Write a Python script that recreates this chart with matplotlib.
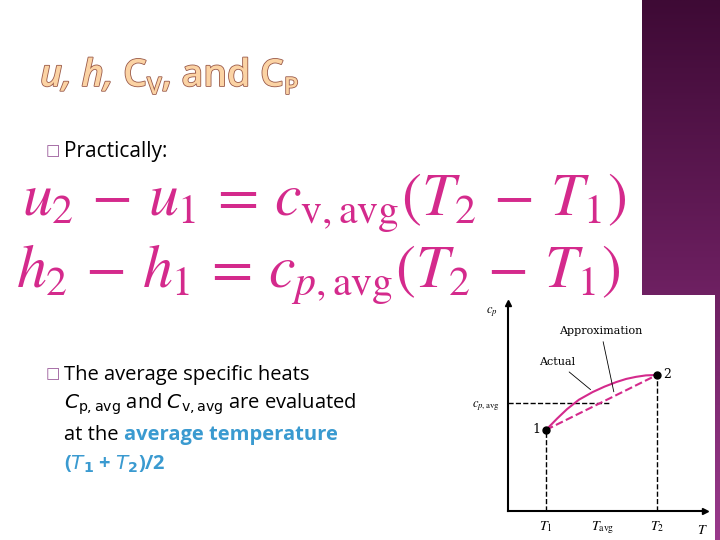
import numpy as np
import matplotlib.pyplot as plt
import matplotlib.patheffects as pe
from matplotlib.colors import LinearSegmentedColormap

# inset curve data (axes units 0..10)
pt1 = (1.93, 3.9)
pt2 = (7.56, 6.54)
actual_x = [1.93, 2.5, 3.0, 3.6, 4.3, 4.9, 5.5, 6.0, 6.5, 7.0, 7.56]
actual_y = [3.9, 4.45, 4.9, 5.35, 5.72, 5.98, 6.2, 6.35, 6.45, 6.52, 6.54]
cp_avg = 5.2
T_ticks = [1.93, 4.8, 7.56]
T_labels = ["$T_1$", "$T_{\\rm avg}$", "$T_2$"]

W, H = 720, 540
fig = plt.figure(figsize=(7.2, 5.4), dpi=100)
fig.patch.set_facecolor("white")
plt.rcParams["mathtext.fontset"] = "stix"

def fx(px): return px / W
def fy(py): return 1 - py / H

renderer = fig.canvas.get_renderer()

def chain(x, y, parts):
    # place text pieces one after another, x in pixels
    for s, dy, kw in parts:
        t = fig.text(fx(x), fy(y + dy), s, **kw)
        x += t.get_window_extent(renderer).width
    return x

# purple band on the right
band = fig.add_axes([fx(642), 0, fx(78), 1])
grad = np.linspace(0, 1, 256).reshape(-1, 1)
cmap = LinearSegmentedColormap.from_list("pp", ["#9a3a8c", "#6a1e5e", "#3e0a35"])
band.imshow(grad, aspect="auto", cmap=cmap, origin="lower")
band.axis("off")

# title
outline = [pe.withStroke(linewidth=1.2, foreground="#9a5a4a")]
tk = dict(color="#fbd3a4", fontsize=27, fontweight="semibold", path_effects=outline, family="Open Sans")
sk = dict(tk, fontsize=17)
chain(40, 86, [("u, h, ", 0, dict(tk, style="italic")), ("C", 0, tk), ("V", 8, sk),
               (", and C", 0, tk), ("P", 8, sk)])

# bullets
box = dict(color="#9a5a9a", fontsize=11, family="DejaVu Sans")
fig.text(fx(46), fy(155), "\u25a1", **box)
fig.text(fx(64), fy(157), "Practically:", fontsize=15, family="Open Sans")

eqc = "#d42a8c"
fig.text(fx(22), fy(216), r"$u_2\,-\,u_1\,=\,c_{\mathrm{v,avg}}(T_2\,-\,T_1)$", fontsize=43, color=eqc)
fig.text(fx(16), fy(287), r"$h_2\,-\,h_1\,=\,c_{p,\mathrm{avg}}(T_2\,-\,T_1)$", fontsize=43, color=eqc)

fig.text(fx(46), fy(378), "\u25a1", **box)
bt = dict(fontsize=14.5, family="Open Sans")
bb = dict(bt, color="#3a9ad0", fontweight="bold")
fig.text(fx(64), fy(380), "The average specific heats", **bt)
fig.text(fx(64), fy(409), r"$C_{\rm p,avg}$ and $C_{\rm v,avg}$ are evaluated", math_fontfamily="dejavusans", **bt)
chain(64, 440, [("at the ", 0, bt), ("average temperature", 0, bb)])
fig.text(fx(64), fy(470), r"($\mathit{T}_{\mathbf{1}}$ + $\mathit{T}_{\mathbf{2}}$)/2",
         math_fontfamily="dejavusans", **bb)

# inset background
bg = fig.add_axes([fx(470), 0, fx(245), fy(295)])
bg.set_facecolor("white"); bg.set_xticks([]); bg.set_yticks([])
for s in bg.spines.values(): s.set_visible(False)

ax = fig.add_axes([fx(508), fy(511), fx(197), (511 - 303) / H])
ax.set_xlim(0, 10); ax.set_ylim(0, 10)
ax.patch.set_alpha(0)
for s in ["top", "right"]: ax.spines[s].set_visible(False)
ax.spines["left"].set_linewidth(1.5); ax.spines["bottom"].set_linewidth(1.5)
ax.plot(1, 0, ">k", transform=ax.transAxes, clip_on=False, ms=4)
ax.plot(0, 1, "^k", transform=ax.transAxes, clip_on=False, ms=4)
ax.set_xticks(T_ticks); ax.set_xticklabels(T_labels, fontsize=10)
ax.set_yticks([cp_avg]); ax.set_yticklabels([r"$c_{p,\rm avg}$"], fontsize=9)
ax.tick_params(length=0, pad=6)
ax.plot([0, 5.2], [cp_avg, cp_avg], "k--", lw=1)
ax.plot([pt1[0]] * 2, [0, pt1[1]], "k--", lw=1)
ax.plot([pt2[0]] * 2, [0, pt2[1]], "k--", lw=1)
ax.plot(actual_x, actual_y, color="#d42a8c", lw=1.5)
ax.plot([pt1[0], pt2[0]], [pt1[1], pt2[1]], "--", color="#d42a8c", lw=1.5)
ax.plot(*zip(pt1, pt2), "ko", ms=5, ls="none")
ax.text(pt1[0] - 0.3, pt1[1], "1", ha="right", va="center", fontsize=9, family="serif")
ax.text(pt2[0] + 0.3, pt2[1], "2", ha="left", va="center", fontsize=9, family="serif")
ax.text(9.6, -0.6, "$T$", fontsize=10, va="top")
ax.text(-0.5, 9.5, "$c_p$", fontsize=9, ha="right")
ax.annotate("Approximation", xy=(5.4, 5.6), xytext=(2.6, 8.5), fontsize=8, family="serif",
            arrowprops=dict(arrowstyle="-", lw=0.6))
ax.annotate("Actual", xy=(4.3, 5.75), xytext=(1.6, 7.0), fontsize=8, family="serif",
            arrowprops=dict(arrowstyle="-", lw=0.6))

fig.savefig("out.png", dpi=100)
